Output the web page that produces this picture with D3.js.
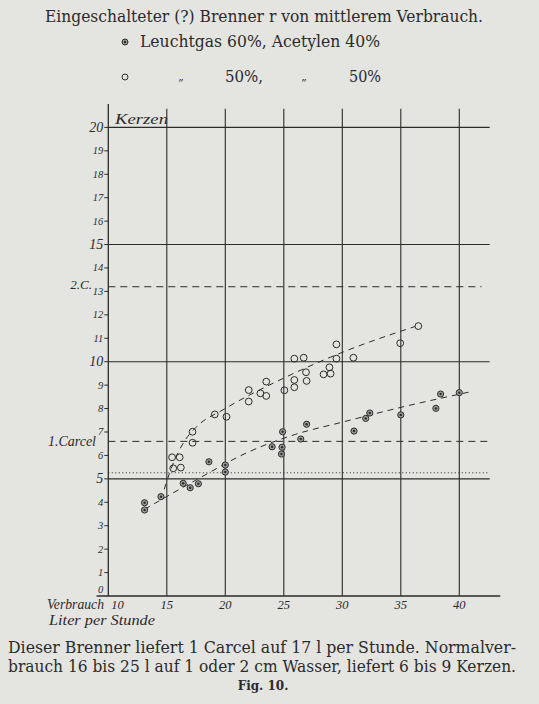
<!DOCTYPE html>
<html>
<head>
<meta charset="utf-8">
<script src="https://cdn.jsdelivr.net/npm/d3@7"></script>
<style>
body { margin: 0; background: #e4e4e1; }
svg { display: block; }
</style>
</head>
<body>
<script>
// Verbrauch (Liter per Stunde) / Kerzen
var xTicks = [10, 15, 20, 25, 30, 35, 40];
var yTicks = d3.range(0, 21);
var solidLevels = [5, 10, 15, 20];
var carcel = 6.6;        // 1 Carcel
var twoCarcel = 13.2;    // 2 C.
var dottedLevel = 5.26;

// Leuchtgas 60%, Acetylen 40%  (circle with dot)
var gas60 = [
  [13.1, 3.98], [13.1, 3.67], [14.5, 4.24], [16.4, 4.81], [17.0, 4.62], [17.7, 4.79],
  [18.6, 5.73], [20.0, 5.59], [20.0, 5.29], [24.0, 6.37], [24.85, 6.35], [24.8, 6.06],
  [24.9, 7.01], [26.45, 6.70], [26.95, 7.33], [31.0, 7.04], [32.0, 7.58], [32.35, 7.81],
  [35.0, 7.73], [38.0, 8.01], [38.4, 8.62], [40.0, 8.68]
];
// Leuchtgas 50%, Acetylen 50%  (open circle)
var gas50 = [
  [15.45, 5.92], [16.1, 5.92], [15.55, 5.45], [16.2, 5.48], [17.2, 7.01], [17.2, 6.54],
  [19.1, 7.75], [20.1, 7.65], [22.0, 8.79], [22.0, 8.30], [23.0, 8.65], [23.5, 9.15],
  [23.5, 8.54], [25.05, 8.78], [25.9, 10.13], [26.7, 10.17], [25.9, 9.22], [25.9, 8.91],
  [26.9, 9.55], [26.95, 9.18], [28.4, 9.46], [29.0, 9.49], [28.9, 9.76], [29.5, 10.74],
  [29.5, 10.13], [30.95, 10.17], [34.95, 10.79], [36.5, 11.52]
];
// hand drawn dashed trend curves
var trend60 = [[13.1, 3.7], [17.5, 4.95], [22, 6.15], [26, 6.9], [30, 7.42], [35, 8.05], [41, 8.72]];
var trend50 = [[14.5, 4.1], [15.5, 5.6], [16.5, 6.6], [17.5, 7.2], [20, 8.0], [25, 9.3], [30, 10.4], [36.2, 11.5]];

var W = 539, H = 704;
var ink = "#2b2b2b";
var hand = "'Liberation Serif', 'DejaVu Serif', serif";
var book = "'DejaVu Serif', 'Liberation Serif', serif";

var x = d3.scaleLinear().domain([10, 40]).range([108.3, 459.3]);
var y = d3.scaleLinear().domain([0, 20]).range([596, 127.4]);

var svg = d3.select("body").append("svg").attr("width", W).attr("height", H);

// title + legend
svg.append("text").attr("x", 45).attr("y", 22).attr("textLength", 438).attr("lengthAdjust", "spacingAndGlyphs")
  .attr("font-family", book).attr("font-size", 16).attr("fill", ink)
  .text("Eingeschalteter (?) Brenner r von mittlerem Verbrauch.");

var leg = svg.append("g").attr("fill", ink).attr("font-family", book).attr("font-size", 16);
leg.append("circle").attr("cx", 125).attr("cy", 42).attr("r", 3).attr("fill", "#9a9a98").attr("stroke", ink).attr("stroke-width", 1);
leg.append("circle").attr("cx", 125).attr("cy", 42).attr("r", 1.2).attr("fill", ink);
leg.append("text").attr("x", 140).attr("y", 47).attr("textLength", 240).attr("lengthAdjust", "spacingAndGlyphs")
  .text("Leuchtgas 60%, Acetylen 40%");
leg.append("circle").attr("cx", 125).attr("cy", 77).attr("r", 3).attr("fill", "none").attr("stroke", ink).attr("stroke-width", 1);
leg.append("text").attr("x", 181).attr("y", 80).attr("font-size", 11).attr("text-anchor", "middle").text("„");
leg.append("text").attr("x", 225).attr("y", 82).attr("textLength", 38).attr("lengthAdjust", "spacingAndGlyphs").text("50%,");
leg.append("text").attr("x", 304).attr("y", 80).attr("font-size", 11).attr("text-anchor", "middle").text("„");
leg.append("text").attr("x", 349).attr("y", 82).attr("textLength", 32).attr("lengthAdjust", "spacingAndGlyphs").text("50%");

// grid
var grid = svg.append("g").attr("stroke", ink).attr("fill", "none");
grid.selectAll(".v").data(xTicks.slice(1)).enter().append("line")
  .attr("x1", function (d) { return x(d); }).attr("x2", function (d) { return x(d); })
  .attr("y1", y(0)).attr("y2", y(20.8)).attr("stroke-width", 1.1);
grid.selectAll(".h").data(solidLevels).enter().append("line")
  .attr("x1", x(10)).attr("x2", x(42.6))
  .attr("y1", function (d) { return y(d); }).attr("y2", function (d) { return y(d); }).attr("stroke-width", 1.1);
grid.append("line").attr("x1", x(9)).attr("x2", x(43.5)).attr("y1", y(0)).attr("y2", y(0)).attr("stroke-width", 1.3);
grid.append("line").attr("x1", x(10)).attr("x2", x(10)).attr("y1", y(0)).attr("y2", y(21.0)).attr("stroke-width", 1.3);

// carcel reference lines
grid.append("line").attr("x1", x(10)).attr("x2", x(42.8)).attr("y1", y(carcel)).attr("y2", y(carcel))
  .attr("stroke-dasharray", "7,5").attr("stroke-width", 1);
grid.append("line").attr("x1", x(10)).attr("x2", x(41.9)).attr("y1", y(twoCarcel)).attr("y2", y(twoCarcel))
  .attr("stroke-dasharray", "7,5").attr("stroke-width", 1);
grid.append("line").attr("x1", x(10)).attr("x2", x(42.5)).attr("y1", y(dottedLevel)).attr("y2", y(dottedLevel))
  .attr("stroke-dasharray", "1,2.5").attr("stroke-width", 1);

// y axis ticks and labels
var yAx = svg.append("g");
yAx.selectAll("line").data(yTicks.filter(function (d) { return d > 0; })).enter().append("line")
  .attr("x1", x(10) - 4).attr("x2", x(10)).attr("y1", function (d) { return y(d); }).attr("y2", function (d) { return y(d); })
  .attr("stroke", ink).attr("stroke-width", 1);
yAx.selectAll("text").data(yTicks).enter().append("text")
  .attr("x", x(10) - 5)
  .attr("y", function (d) { return d === 0 ? y(0) - 3 : y(d) + (d % 5 === 0 ? 4.5 : 3.5); })
  .attr("text-anchor", "end").attr("font-family", hand).attr("font-style", "italic")
  .attr("font-size", function (d) { return d % 5 === 0 && d > 0 ? 14 : 10.5; }).attr("fill", ink)
  .text(function (d) { return d; });

// x axis labels
svg.selectAll(".xl").data(xTicks).enter().append("text")
  .attr("x", function (d) { return x(d) + (d === 10 ? 3 : 0); }).attr("y", y(0) + 13)
  .attr("text-anchor", function (d) { return d === 10 ? "start" : "middle"; })
  .attr("font-family", hand).attr("font-style", "italic").attr("font-size", 12.5).attr("fill", ink)
  .text(function (d) { return d; });

var notes = svg.append("g").attr("font-family", hand).attr("font-style", "italic").attr("fill", ink);
notes.append("text").attr("x", 115).attr("y", y(20) - 3).attr("font-size", 15).attr("textLength", 53).attr("lengthAdjust", "spacingAndGlyphs").text("Kerzen");
notes.append("text").attr("x", 92).attr("y", y(twoCarcel) + 2).attr("text-anchor", "end").attr("font-size", 13).text("2.C.");
notes.append("text").attr("x", 96).attr("y", y(carcel) + 4.5).attr("text-anchor", "end").attr("font-size", 14).text("1.Carcel");
notes.append("text").attr("x", 47).attr("y", y(0) + 13).attr("font-size", 14).attr("textLength", 57).attr("lengthAdjust", "spacingAndGlyphs").text("Verbrauch");
notes.append("text").attr("x", 49).attr("y", y(0) + 29).attr("font-size", 14).attr("textLength", 106).attr("lengthAdjust", "spacingAndGlyphs").text("Liter per Stunde");

// trend curves
var line = d3.line().x(function (d) { return x(d[0]); }).y(function (d) { return y(d[1]); }).curve(d3.curveMonotoneX);
svg.append("path").attr("d", line(trend60)).attr("fill", "none").attr("stroke", ink).attr("stroke-width", 1).attr("stroke-dasharray", "6,5");
svg.append("path").attr("d", line(trend50)).attr("fill", "none").attr("stroke", ink).attr("stroke-width", 1).attr("stroke-dasharray", "6,5");

// points
svg.selectAll(".p50").data(gas50).enter().append("circle")
  .attr("cx", function (d) { return x(d[0]); }).attr("cy", function (d) { return y(d[1]); })
  .attr("r", 3.4).attr("fill", "none").attr("stroke", ink).attr("stroke-width", 1);
var p60 = svg.selectAll(".p60").data(gas60).enter().append("g")
  .attr("transform", function (d) { return "translate(" + x(d[0]) + "," + y(d[1]) + ")"; });
p60.append("circle").attr("r", 3.1).attr("fill", "#9d9d9b").attr("stroke", ink).attr("stroke-width", 1);
p60.append("circle").attr("r", 1.2).attr("fill", ink);

// caption
var cap = svg.append("g").attr("font-family", book).attr("font-size", 16).attr("fill", ink);
cap.append("text").attr("x", 8).attr("y", 653).attr("textLength", 508).attr("lengthAdjust", "spacingAndGlyphs")
  .text("Dieser Brenner liefert 1 Carcel auf 17 l per Stunde. Normalver-");
cap.append("text").attr("x", 8).attr("y", 672).attr("textLength", 508).attr("lengthAdjust", "spacingAndGlyphs")
  .text("brauch 16 bis 25 l auf 1 oder 2 cm Wasser, liefert 6 bis 9 Kerzen.");
cap.append("text").attr("x", 263).attr("y", 690).attr("text-anchor", "middle").attr("font-size", 12).attr("font-weight", "bold")
  .text("Fig. 10.");
</script>
</body>
</html>
